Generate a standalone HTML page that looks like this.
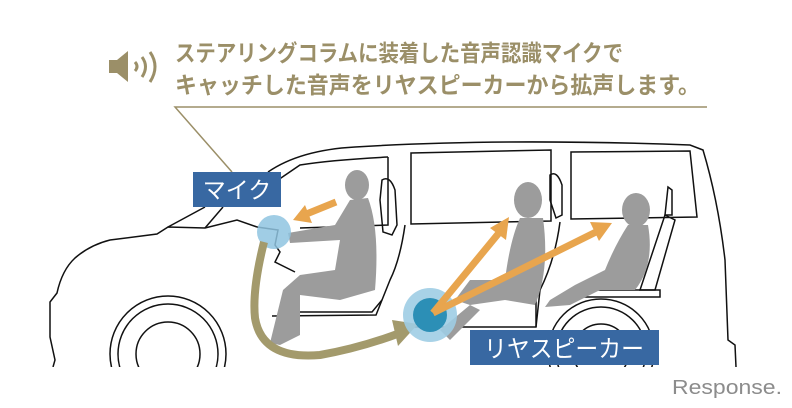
<!DOCTYPE html>
<html><head><meta charset="utf-8"><style>
html,body{margin:0;padding:0;background:#fff;}
svg{display:block;}
</style></head><body>
<svg width="792" height="408" viewBox="0 0 792 408" xmlns="http://www.w3.org/2000/svg">
<defs><clipPath id="c"><rect x="0" y="0" width="792" height="367"/></clipPath></defs>
<g fill="#9b8f68">
<rect x="109" y="60" width="9" height="13"/>
<polygon points="117,60 128,51 128,82 117,73"/>
</g>
<g fill="none" stroke="#9b8f68" stroke-width="3">
<path d="M135,62 Q139,66.5 135,71"/>
<path d="M142,57 Q149,66.5 142,77"/>
<path d="M150,52 Q160,66.5 150,82"/>
</g>
<g font-family="'Liberation Sans','Noto Sans CJK JP',sans-serif" font-size="23" fill="#9b8f68" font-weight="bold">
<text x="175" y="61" textLength="448" lengthAdjust="spacingAndGlyphs">ステアリングコラムに装着した音声認識マイクで</text>
<text x="175" y="93" textLength="525" lengthAdjust="spacingAndGlyphs">キャッチした音声をリヤスピーカーから拡声します。</text>
</g>
<polyline points="232,172 175,107 707,107" fill="none" stroke="#9b8f68" stroke-width="1.5"/>

<g fill="none" stroke="#111" stroke-width="1.5" clip-path="url(#c)">
<path d="M53,367 L55,360 L50,337 L50,302 L57,293 Q62,270 75,258 Q90,245 110,240 L157,234 L168,227 L205,228 L237,220 L257,227"/>
<path d="M168,227 L205,207 M205,228 L223,207"/>
<path d="M268,172 Q300,150 355,147 Q500,138 690,145 L703,150 Q718,200 725,260 L728,340 L735,345 L736,367"/>
<path d="M278,180 L300,165 Q330,160 388,157"/>
<path d="M388,157 L388,225 L300,228"/>
<path d="M411,153 L551,150 L551,221 L411,224 Z"/>
<path d="M571,152 L690,151 L697,217 L571,219 Z"/>
<path d="M405,225 Q400,260 390,280 L382,300 L372,312 L300,312"/>
<path d="M382,300 L376,315 L272,316"/>
<path d="M560,222 Q555,260 540,290 L536,327 L410,327"/>
<path d="M536,327 L536,300"/>
<path d="M382,180 Q390,175 395,190 L397,225 L392,235 L383,232 L380,200 Z"/>
<path d="M550,175 Q557,170 562,185 L562,215 L556,218 L550,200 Z"/>
<path d="M668,187 L672,190 L672,215 L665,215 Z"/>
<path d="M665,215 L675,220 L655,290 L640,290 Z"/>
<path d="M578,290 L660,290 L660,297 L578,297"/>
<circle cx="168" cy="354" r="58"/>
<circle cx="168" cy="354" r="50"/>
<circle cx="168" cy="354" r="32"/>
<circle cx="601" cy="352" r="53"/>
<circle cx="601" cy="352" r="45"/>
<circle cx="601" cy="352" r="28"/>
<path d="M257,227 L278,230 L275,245 L280,252 L275,262 L295,272"/>
</g>

<g fill="#9c9c9c">
<ellipse cx="357" cy="185" rx="12" ry="15"/>
<path d="M350,200 L368,198 Q380,230 375,290 L340,300 L300,295 L300,335 L280,345 L270,343 L283,290 L300,275 L335,270 L340,240 L290,243 L288,233 L335,225 Z"/>
<ellipse cx="528" cy="200" rx="14" ry="18"/>
<path d="M520,218 L543,218 Q550,270 535,305 L505,300 L470,305 L455,300 L470,280 L505,280 Q510,240 520,218 Z"/>
<path d="M440,330 L470,305 L480,310 L450,340 Z"/>
<ellipse cx="636" cy="210" rx="14" ry="17"/>
<path d="M628,225 L648,225 Q655,265 635,290 L600,290 L570,305 L545,307 L550,300 L575,285 L605,270 Q615,245 628,225 Z"/>
</g>

<circle cx="274" cy="232" r="17" fill="#8fc4e0" opacity="0.85"/>
<path d="M264,242 Q252,290 255,318 Q262,360 320,355 Q360,348 400,333" fill="none" stroke="#a39a6c" stroke-width="8"/>
<polygon points="392,320 418,324 398,346" fill="#a39a6c"/>
<circle cx="430" cy="315" r="27" fill="#9fcde4" opacity="0.9"/>
<circle cx="430" cy="315" r="17" fill="#2c8fb6"/>
<g stroke="#e8a54e" stroke-width="7" fill="#e8a54e">
<line x1="336" y1="202" x2="304" y2="215"/>
<line x1="433" y1="313" x2="503" y2="228"/>
<line x1="433" y1="313" x2="600" y2="230"/>
</g>
<g fill="#e8a54e">
<polygon points="293,220 305,205 312,223"/>
<polygon points="509,217 490,228 506,240"/>
<polygon points="612,223 590,222 599,241"/>
</g>

<rect x="193" y="172" width="88" height="35" fill="#3868a2"/>
<text x="237" y="198" text-anchor="middle" font-family="'Liberation Sans','Noto Sans CJK JP',sans-serif" font-size="23" fill="#fff">マイク</text>
<rect x="470" y="330" width="189" height="35" fill="#3868a2"/>
<text x="564" y="357" text-anchor="middle" font-family="'Liberation Sans','Noto Sans CJK JP',sans-serif" font-size="24" fill="#fff" textLength="160" lengthAdjust="spacingAndGlyphs">リヤスピーカー</text>

<text x="672" y="394" font-family="'Liberation Sans',sans-serif" font-size="20" fill="#8c8c8c" textLength="110" lengthAdjust="spacingAndGlyphs">Response.</text>
</svg>
</body></html>
